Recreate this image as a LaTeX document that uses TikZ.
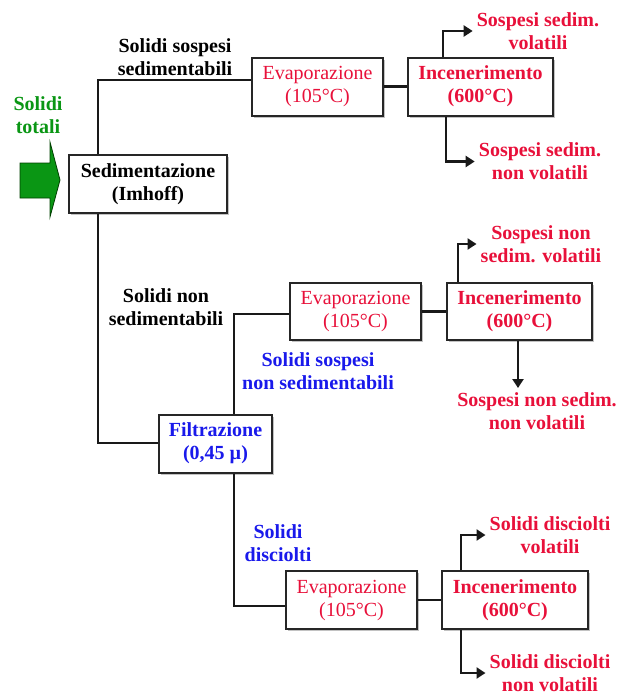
\documentclass[tikz,border=0pt]{standalone}
\usepackage{fontspec}
\setmainfont{Liberation Serif}
\usetikzlibrary{arrows.meta,shadows}
\definecolor{rd}{RGB}{232,16,58}
\definecolor{bl}{RGB}{25,25,235}
\definecolor{gr}{RGB}{10,150,20}
\begin{document}
\begin{tikzpicture}[x=1pt,y=-1pt,
  box/.style={draw=black!85, line width=2pt, fill=white,
    drop shadow={shadow xshift=2pt, shadow yshift=-2pt, fill=black!40, opacity=0.6},
    minimum width=131pt, minimum height=58pt, align=center, inner sep=0pt,
    font=\fontsize{20}{23}\selectfont},
  lbl/.style={align=center, inner sep=2pt, font=\fontsize{20}{23}\selectfont\bfseries},
  conn/.style={line width=2.6pt, black!90},
  arr/.style={conn, -{Triangle[length=9pt,width=11pt]}}
]
\useasboundingbox (0,0) rectangle (620,697);
% boxes
\node[box, minimum width=158pt, font=\fontsize{20}{23}\selectfont\bfseries] (sed) at (148,184) {Sedimentazione\\(Imhoff)};
\node[box, text=rd] (ev1) at (317.5,86.5) {Evaporazione\\(105°C)};
\node[box, minimum width=145pt, text=rd, font=\fontsize{20}{23}\selectfont\bfseries] (in1) at (480.5,86.5) {Incenerimento\\(600°C)};
\node[box, minimum width=113pt, text=bl, font=\fontsize{20}{23}\selectfont\bfseries] (fil) at (215.5,443.5) {Filtrazione\\(0,45 µ)};
\node[box, minimum height=57pt, text=rd] (ev2) at (355.5,311.5) {Evaporazione\\(105°C)};
\node[box, minimum height=57pt, minimum width=145pt, text=rd, font=\fontsize{20}{23}\selectfont\bfseries] (in2) at (519.5,311.5) {Incenerimento\\(600°C)};
\node[box, text=rd] (ev3) at (351.5,600) {Evaporazione\\(105°C)};
\node[box, minimum width=146pt, text=rd, font=\fontsize{20}{23}\selectfont\bfseries] (in3) at (515,600) {Incenerimento\\(600°C)};
% labels
\node[lbl, text=gr] (tot) at (38,115) {Solidi\\totali};
\node[lbl] (sss) at (175,57) {Solidi sospesi\\sedimentabili};
\node[lbl] (sns) at (166,307) {Solidi non\\sedimentabili};
\node[lbl, text=bl] (ssn) at (318,371.5) {Solidi sospesi\\non sedimentabili};
\node[lbl, text=bl] (sdi) at (278,543.5) {Solidi\\disciolti};
\node[lbl, text=rd] (L1) at (538,31) {Sospesi sedim.\\volatili};
\node[lbl, text=rd] (L2) at (540,161.5) {Sospesi sedim.\\non volatili};
\node[lbl, text=rd] (L3) at (541,244) {Sospesi non\\sedim. volatili};
\node[lbl, text=rd] (L4) at (537,411) {Sospesi non sedim.\\non volatili};
\node[lbl, text=rd] (L5) at (550,535) {Solidi disciolti\\volatili};
\node[lbl, text=rd] (L6) at (550,673) {Solidi disciolti\\non volatili};
% green arrow
\draw[fill=gr, draw=green!25!black, line width=0.8pt]
  (20,163) -- (50,163) -- (50,142) -- (60,180) -- (50,217) -- (50,198) -- (20,198) -- cycle;
% connectors
\coordinate (c1) at (98,80);
\coordinate (c2) at (98,443);
\coordinate (c3) at (234,314);
\coordinate (c4) at (234,606);
\draw[conn] (ev1.west |- c1) -- (c1) -- (c1 |- sed.north);
\draw[conn] (c1 |- sed.south) -- (c2) -- (c2 -| fil.west);
\draw[conn] (c3 |- fil.north) -- (c3) -- (c3 -| ev2.west);
\draw[conn] (c4 |- fil.south) -- (c4) -- (c4 -| ev3.west);
\draw[conn] (ev1.east) -- (in1.west);
\draw[conn] (ev2.east) -- (in2.west);
\draw[conn] (ev3.east) -- (in3.west);
% output arrows
\coordinate (a1) at (443,0);
\coordinate (a2) at (446,0);
\coordinate (a3) at (458,0);
\coordinate (a4) at (518,388);
\coordinate (a5) at (461,0);
\draw[arr] (a1 |- in1.north) |- ([xshift=-2pt]L1.west);
\draw[arr] (a2 |- in1.south) |- ([xshift=-2pt]L2.west);
\draw[arr] (a3 |- in2.north) |- ([xshift=-2pt]L3.west);
\draw[arr] (a4 |- in2.south) -- (a4);
\draw[arr] (a5 |- in3.north) |- ([xshift=-2pt]L5.west);
\draw[arr] (a5 |- in3.south) |- ([xshift=-2pt]L6.west);
\end{tikzpicture}
\end{document}
